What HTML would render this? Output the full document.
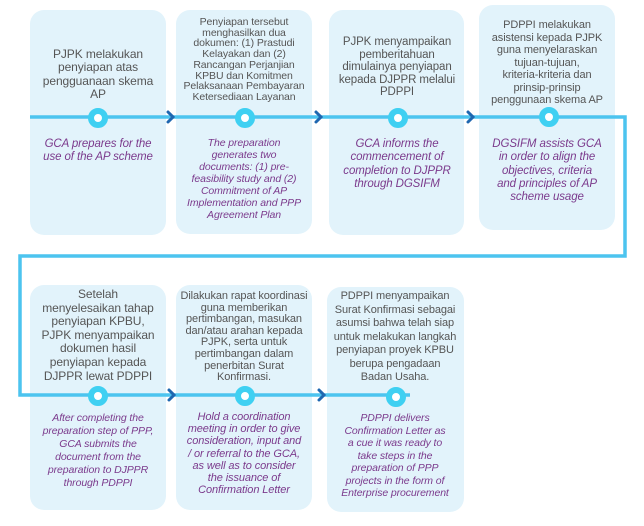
<!DOCTYPE html>
<html><head><meta charset="utf-8"><style>
body{margin:0;width:644px;height:526px;background:#fff;position:relative;overflow:hidden;font-family:"Liberation Sans",sans-serif}
.b{position:absolute;background:#e2f3fb;border-radius:14px}
.t{position:absolute;width:170px;text-align:center;white-space:nowrap;color:#555;font-size:11px;letter-spacing:-0.1px}
.i{position:absolute;width:170px;text-align:center;white-space:nowrap;color:#7b3a8c;font-size:10.5px;font-style:italic;letter-spacing:-0.1px}
svg{position:absolute;left:0;top:0}
</style></head><body>
<div class="b" style="left:30px;top:10px;width:136px;height:225px"></div>
<div class="b" style="left:176px;top:10px;width:136px;height:224px"></div>
<div class="b" style="left:329px;top:10px;width:135px;height:225px"></div>
<div class="b" style="left:479px;top:5px;width:136px;height:225px"></div>
<div class="b" style="left:30px;top:285px;width:136px;height:225px"></div>
<div class="b" style="left:176px;top:285px;width:136px;height:225px"></div>
<div class="b" style="left:327px;top:287px;width:137px;height:225px"></div>

<svg width="644" height="526">
<g fill="none" stroke="#4cc4ef" stroke-width="3.5">
<path d="M30 117 H625 V256 H20 V395 H410"/>
</g>
<g fill="none" stroke="#1f67b0" stroke-width="3" stroke-linecap="round">
<path d="M168 112 L173 117 L168 122"/><path d="M316 112 L321 117 L316 122"/><path d="M468 112 L473 117 L468 122"/>
<path d="M169 390 L174 395 L169 400"/><path d="M319 390 L324 395 L319 400"/>
</g>
<g fill="#fff" stroke="#3fd0f2" stroke-width="6">
<circle cx="98" cy="118" r="7"/><circle cx="245" cy="118" r="7"/><circle cx="398" cy="118" r="7"/><circle cx="549" cy="117" r="7"/>
<circle cx="98" cy="396" r="7"/><circle cx="245" cy="396" r="7"/><circle cx="396" cy="397" r="7"/>
</g>
</svg>

<div class="t" style="left:13px;top:48px;font-size:12px;line-height:13.3px">PJPK melakukan<br>penyiapan atas<br>pengguanaan skema<br>AP</div>
<div class="i" style="left:13px;top:138px;font-size:11.5px;line-height:13.3px">GCA prepares for the<br>use of the AP scheme</div>

<div class="t" style="left:159px;top:17px;line-height:10.7px;font-size:10.5px">Penyiapan tersebut<br>menghasilkan dua<br>dokumen: (1) Prastudi<br>Kelayakan dan (2)<br>Rancangan Perjanjian<br>KPBU dan Komitmen<br>Pelaksanaan Pembayaran<br>Ketersediaan Layanan</div>
<div class="i" style="left:159px;top:137px;line-height:12px">The preparation<br>generates two<br>documents: (1) pre-<br>feasibility study and (2)<br>Commitment of AP<br>Implementation and PPP<br>Agreement Plan</div>

<div class="t" style="left:312px;top:36px;line-height:12.5px;font-size:11.5px">PJPK menyampaikan<br>pemberitahuan<br>dimulainya penyiapan<br>kepada DJPPR melalui<br>PDPPI</div>
<div class="i" style="left:312px;top:138px;line-height:13.3px;font-size:11.5px">GCA informs the<br>commencement of<br>completion to DJPPR<br>through DGSIFM</div>

<div class="t" style="left:462px;top:19px;line-height:12.5px">PDPPI melakukan<br>asistensi kepada PJPK<br>guna menyelaraskan<br>tujuan-tujuan,<br>kriteria-kriteria dan<br>prinsip-prinsip<br>penggunaan skema AP</div>
<div class="i" style="left:462px;top:138px;line-height:13.3px;font-size:11.5px">DGSIFM assists GCA<br>in order to align the<br>objectives, criteria<br>and principles of AP<br>scheme usage</div>

<div class="t" style="left:13px;top:288px;line-height:13.6px;font-size:12px">Setelah<br>menyelesaikan tahap<br>penyiapan KPBU,<br>PJPK menyampaikan<br>dokumen hasil<br>penyiapan kepada<br>DJPPR lewat PDPPI</div>
<div class="i" style="left:13px;top:412px;line-height:13px">After completing the<br>preparation step of PPP,<br>GCA submits the<br>document from the<br>preparation to DJPPR<br>through PDPPI</div>

<div class="t" style="left:159px;top:291px;line-height:11.6px">Dilakukan rapat koordinasi<br>guna memberikan<br>pertimbangan, masukan<br>dan/atau arahan kepada<br>PJPK, serta untuk<br>pertimbangan dalam<br>penerbitan Surat<br>Konfirmasi.</div>
<div class="i" style="left:159px;top:411px;line-height:12.2px;font-size:11px">Hold a coordination<br>meeting in order to give<br>consideration, input and<br>/ or referral to the GCA,<br>as well as to consider<br>the issuance of<br>Confirmation Letter</div>

<div class="t" style="left:310px;top:290px;line-height:13.5px">PDPPI menyampaikan<br>Surat Konfirmasi sebagai<br>asumsi bahwa telah siap<br>untuk melakukan langkah<br>penyiapan proyek KPBU<br>berupa pengadaan<br>Badan Usaha.</div>
<div class="i" style="left:310px;top:412px;line-height:12.5px">PDPPI delivers<br>Confirmation Letter as<br>a cue it was ready to<br>take steps in the<br>preparation of PPP<br>projects in the form of<br>Enterprise procurement</div>
</body></html>
